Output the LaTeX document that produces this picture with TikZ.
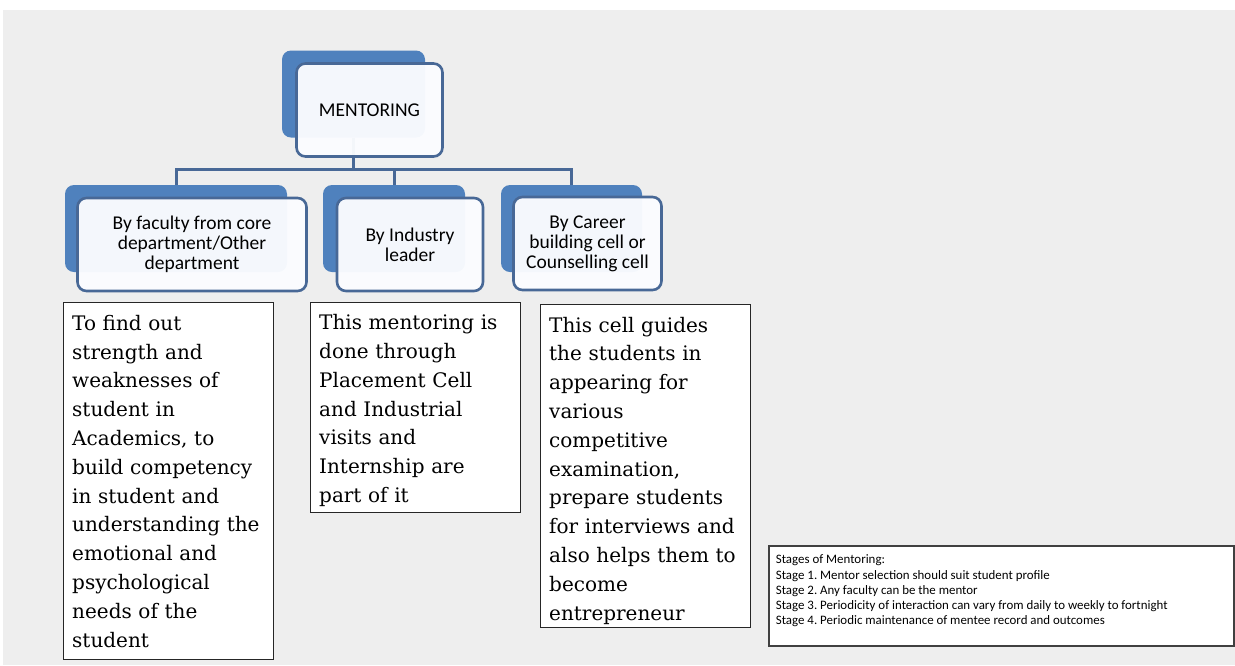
\documentclass[tikz,border=0pt]{standalone}
\usepackage{fontspec}
\setmainfont{DejaVu Serif}
\newfontfamily\calfont{Carlito}
\definecolor{bggray}{RGB}{238,238,238}
\definecolor{mblue}{RGB}{79,129,189}
\definecolor{mline}{RGB}{72,104,150}
\definecolor{mfront}{RGB}{251,252,255}
\tikzset{
    backbox/.style = {rounded corners=9pt, fill=mblue, minimum height=87pt},
    frontbox/.style = {rounded corners=9pt, draw=mline, line width=2.6pt, fill=mfront, fill opacity=0.96, text opacity=1,
        minimum height=93pt, align=center, font=\calfont\fontsize{19.5pt}{20pt}\selectfont},
    link/.style = {draw=mline, line width=3pt},
    notebox/.style = {draw=black!85, line width=1.4pt, fill=white, anchor=north west, align=left,
        text width=193pt, inner xsep=8.5pt, font=\fontsize{20pt}{28.8pt}\selectfont},
    stagebox/.style = {draw=black!75, line width=1.8pt, fill=white, anchor=north west,
        inner xsep=7pt, inner ysep=9pt, font=\calfont\fontsize{12.9pt}{15.3pt}\selectfont\frenchspacing}
}
\begin{document}
\begin{tikzpicture}[x=1pt, y=-1pt]
            \fill[white] (0,0) rectangle (1235,665);
            \fill[bggray] (3,10) rectangle (1235,665);
            \useasboundingbox (0,0) rectangle (1235,665);

            \node[backbox, minimum width=143pt] (mentorB) at (353.5,94) {};
            \node[backbox, minimum width=222pt] (facultyB) at (176,228.5) {};
            \node[backbox, minimum width=142pt] (industryB) at (394,228.5) {};
            \node[backbox, minimum width=141pt] (careerB) at (571.5,228.5) {};

            \coordinate (bus) at (353.5,169);
            \draw[link] (mentorB) -- (bus);
            \draw[link] (bus) -| (facultyB.north);
            \draw[link] (bus) -| (industryB.north);
            \draw[link] (bus) -| (careerB.north);

            \node[frontbox, minimum width=146pt] (mentor) at ([shift={(16,16)}]mentorB) {MENTORING};
            \node[frontbox, minimum width=229pt] (faculty) at ([shift={(16,16)}]facultyB) {By faculty from core\\department/Other\\department};
            \node[frontbox, minimum width=146pt] (industry) at ([shift={(16,16)}]industryB) {By Industry\\leader};
            \node[frontbox, minimum width=148pt] (career) at ([shift={(16,15)}]careerB) {By Career\\building cell or\\Counselling cell};

            \node[notebox, minimum height=357pt] (findout) at (63,302) {To find out\\strength and\\weaknesses of\\student in\\Academics, to\\build competency\\in student and\\understanding the\\emotional and\\psychological\\needs of the\\student};
            \node[notebox, minimum height=210pt] (placement) at (310,302) {\rule{0pt}{21pt}This mentoring is\\done through\\Placement Cell\\and Industrial\\visits and\\Internship are\\part of it};
            \node[notebox, minimum height=323pt] (guides) at (540,304) {\rule{0pt}{24pt}This cell guides\\the students in\\appearing for\\various\\competitive\\examination,\\prepare students\\for interviews and\\also helps them to\\become\\entrepreneur};

            \node[stagebox, minimum width=465pt, minimum height=100pt] (stages) at (768,545) {\parbox[t][82pt][t]{451pt}{\raggedright Stages of Mentoring:\\Stage 1. Mentor selection should suit student profile\\Stage 2. Any faculty can be the mentor\\Stage 3. Periodicity of interaction can vary from daily to weekly to fortnight\\Stage 4. Periodic maintenance of mentee record and outcomes}};
\end{tikzpicture}
\end{document}
